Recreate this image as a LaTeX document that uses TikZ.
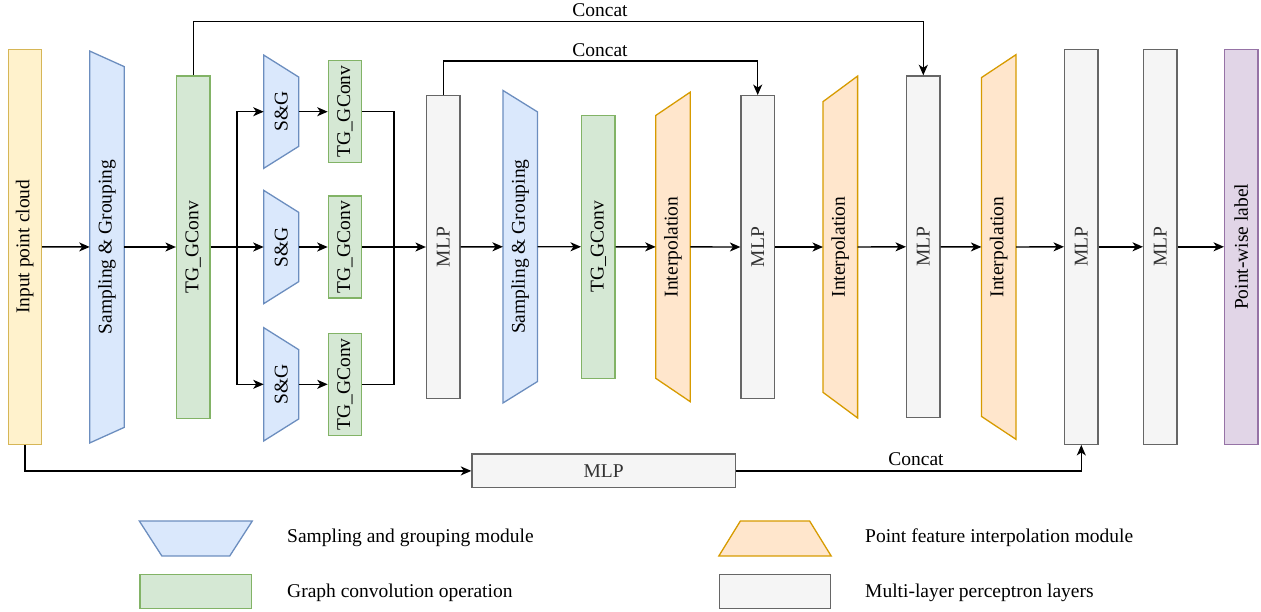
\documentclass[tikz,border=0pt]{standalone}
\usepackage{fontspec}
\usepackage{graphicx}
\setmainfont{Liberation Serif}
\usetikzlibrary{arrows.meta,backgrounds}
\definecolor{sgF}{HTML}{DAE8FC}\definecolor{sgD}{HTML}{6C8EBF}
\definecolor{gcF}{HTML}{D5E8D4}\definecolor{gcD}{HTML}{82B366}
\definecolor{ipF}{HTML}{FFE6CC}\definecolor{ipD}{HTML}{D79B00}
\definecolor{mlF}{HTML}{F5F5F5}\definecolor{mlD}{HTML}{666666}\definecolor{mlT}{HTML}{333333}
\definecolor{inF}{HTML}{FFF2CC}\definecolor{inD}{HTML}{D6B656}
\definecolor{ouF}{HTML}{E1D5E7}\definecolor{ouD}{HTML}{9673A6}
\newcommand{\shapeSG}[2]{\draw[sgcol] (#1.north west) -- ([yshift=-#2pt]#1.north east) -- ([yshift=#2pt]#1.south east) -- (#1.south west) -- cycle;}
\newcommand{\shapeIP}[2]{\draw[ipcol] ([yshift=-#2pt]#1.north west) -- (#1.north east) -- (#1.south east) -- ([yshift=#2pt]#1.south west) -- cycle;}
\newcommand{\rot}[1]{\rotatebox{90}{#1}}
\begin{document}
\begin{tikzpicture}[x=1pt,y=-1pt,
  every node/.style={font=\fontsize{19.5}{23}\selectfont, inner sep=0pt, anchor=center},
  blk/.style={line width=1.3pt, minimum width=33.3pt},
  inbox/.style={blk, draw=inD, fill=inF},
  oubox/.style={blk, draw=ouD, fill=ouF},
  gcbox/.style={blk, draw=gcD, fill=gcF},
  mlbox/.style={blk, draw=mlD, fill=mlF, text=mlT},
  trapbox/.style={blk},
  sgcol/.style={line width=1.3pt, draw=sgD, fill=sgF, line join=miter},
  ipcol/.style={line width=1.3pt, draw=ipD, fill=ipF, line join=miter},
  conn/.style={line width=1.4pt, draw=black},
  arr/.style={conn, -{Stealth[length=10.5pt,width=9pt,inset=3pt]}},
  lbl/.style={anchor=base}
]
\useasboundingbox (0,0) rectangle (1261,611);

% main column
\node[inbox, minimum height=395pt] (inp) at (24.8,246.8) {\rot{Input point cloud}};
\node[trapbox, minimum height=390.6pt] (sg1) at (107,247) {\rot{Sampling \& Grouping}};
\node[gcbox, minimum height=342.3pt] (tg1) at (193.2,247) {\rot{TG\_GConv}};

\node[trapbox, minimum width=33.7pt, minimum height=112pt] (sgt) at (281.2,111.7) {\rot{S\&G}};
\node[trapbox, minimum width=33.7pt, minimum height=112pt] (sgm) at (281.2,247) {\rot{S\&G}};
\node[trapbox, minimum width=33.7pt, minimum height=112pt] (sgb) at (281.2,384.3) {\rot{S\&G}};

\node[gcbox, minimum height=102pt] (tgt) at (345,111.7) {\rot{TG\_GConv}};
\node[gcbox, minimum height=102pt] (tgm) at (345,247) {\rot{TG\_GConv}};
\node[gcbox, minimum height=102pt] (tgb) at (345,384.3) {\rot{TG\_GConv}};

\node[mlbox, minimum height=302.6pt] (mlp1) at (443.2,247) {\rot{MLP}};
\node[trapbox, minimum height=311.3pt] (sg2) at (520.2,246.7) {\rot{Sampling \& Grouping}};
\node[gcbox, minimum height=263pt] (tg2) at (598.3,246.8) {\rot{TG\_GConv}};
\node[trapbox, minimum height=308.3pt] (ip1) at (673,246.9) {\rot{Interpolation}};
\node[mlbox, minimum height=302.6pt] (mlp2) at (757.7,247) {\rot{MLP}};
\node[trapbox, minimum height=340.6pt] (ip2) at (840.3,247) {\rot{Interpolation}};
\node[mlbox, minimum height=341.7pt] (mlp3) at (923.3,246.8) {\rot{MLP}};
\node[trapbox, minimum height=383.4pt] (ip3) at (998.7,247) {\rot{Interpolation}};
\node[mlbox, minimum height=395pt] (mlp4) at (1081.3,246.8) {\rot{MLP}};
\node[mlbox, minimum height=395pt] (mlp5) at (1160.3,246.8) {\rot{MLP}};
\node[oubox, minimum height=395pt] (out) at (1241.3,246.8) {\rot{Point-wise label}};

\node[mlbox, minimum width=263.5pt, minimum height=33.7pt] (mlpb) at (603.7,470.9) {MLP};

% legend
\node[blk, minimum width=111.6pt, minimum height=33.6pt] (legsg) at (195.8,538.5) {};
\node[gcbox, minimum width=111.6pt, minimum height=33.6pt] (leggc) at (195.8,591.5) {};
\node[blk, minimum width=111pt, minimum height=33.6pt] (legip) at (775,538.5) {};
\node[mlbox, minimum width=111pt, minimum height=33.6pt] (legml) at (775,591.5) {};
\node[anchor=west] (tsg) at (287,538) {Sampling and grouping module};
\node[anchor=west] (tgc) at (287,593) {Graph convolution operation};
\node[anchor=west] (tip) at (865,538) {Point feature interpolation module};
\node[anchor=west] (tml) at (865,593) {Multi-layer perceptron layers};

\begin{scope}[on background layer]
\shapeSG{sg1}{15.6}
\shapeSG{sgt}{22}
\shapeSG{sgm}{22}
\shapeSG{sgb}{22}
\shapeSG{sg2}{21.5}
\shapeIP{ip1}{23.4}
\shapeIP{ip2}{25.6}
\shapeIP{ip3}{23}
\draw[sgcol] (legsg.north west) -- (legsg.north east) -- ([xshift=-22.5pt]legsg.south east) -- ([xshift=22.5pt]legsg.south west) -- cycle;
\draw[ipcol] ([xshift=21.5pt]legip.north west) -- ([xshift=-21.5pt]legip.north east) -- (legip.south east) -- (legip.south west) -- cycle;
\end{scope}

% connectors
\draw[arr] (inp) -- (sg1);
\draw[arr] (sg1) -- (tg1);
\coordinate (br) at (237,247);
\draw[conn] (tg1.east) -- (br);
\draw[arr] (br) -- (sgm.west);
\draw[arr] (br) |- (sgt.west);
\draw[arr] (br) |- (sgb.west);
\draw[arr] (sgt) -- (tgt);
\draw[arr] (sgm) -- (tgm);
\draw[arr] (sgb) -- (tgb);
\coordinate (mg) at (394,247);
\draw[conn] (tgt.east) -| (mg);
\draw[conn] (tgb.east) -| (mg);
\draw[arr] (tgm.east) -- (mlp1.west);
\draw[arr] (mlp1) -- (sg2);
\draw[arr] (sg2) -- (tg2);
\draw[arr] (tg2) -- (ip1);
\draw[arr] (ip1.east) -- (mlp2.west);
\draw[arr] (mlp2) -- (ip2);
\draw[arr] (ip2.east) -- (mlp3.west);
\draw[arr] (mlp3) -- (ip3);
\draw[arr] (ip3.east) -- (mlp4.west);
\draw[arr] (mlp4) -- (mlp5);
\draw[arr] (mlp5) -- (out);

\draw[arr] (tg1.north) -- ++(0,-54) coordinate (c1) -| (mlp3.north);
\draw[arr] (mlp1.north) -- ++(0,-34) coordinate (c2) -| (mlp2.north);
\draw[arr] (inp.south) |- (mlpb.west);
\draw[arr] (mlpb.east) -| (mlp4.south);

\node[lbl] (cc1) at (600,16.5) {Concat};
\node[lbl] (cc2) at (600,56.3) {Concat};
\node[lbl] (cc3) at (916,465.5) {Concat};
\end{tikzpicture}
\end{document}
